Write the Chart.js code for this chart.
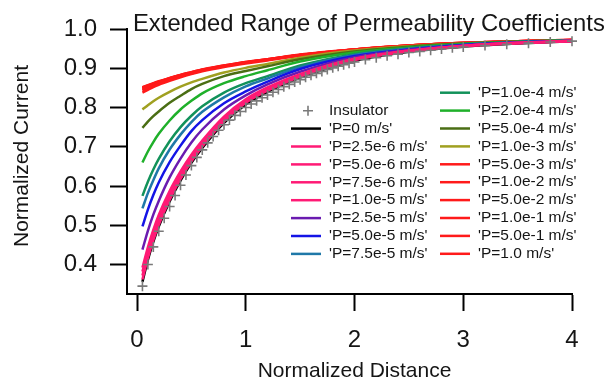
<!DOCTYPE html>
<html>
<head>
<meta charset="utf-8">
<script src="https://cdn.jsdelivr.net/npm/chart.js@4.4.1/dist/chart.umd.min.js"></script>
<style>
  html, body { margin: 0; padding: 0; background: #fff; }
  #wrap { width: 610px; height: 381px; }
</style>
</head>
<body>
<div id="wrap"><canvas id="chart" width="610" height="381"></canvas></div>
<script>
// insulator markers (gray +)
const insulatorX = [0.05, 0.1, 0.15, 0.2, 0.25, 0.3, 0.35, 0.4, 0.45, 0.5,
  0.55, 0.6, 0.65, 0.7, 0.75, 0.8, 0.85, 0.9, 0.95, 1.0,
  1.05, 1.1, 1.15, 1.2, 1.25, 1.3, 1.35, 1.4, 1.45, 1.5,
  1.55, 1.6, 1.65, 1.7, 1.75, 1.8, 1.85, 1.9, 1.95, 2.0,
  2.1, 2.2, 2.3, 2.4, 2.5, 2.6, 2.7, 2.8, 2.9, 3.0,
  3.2, 3.4, 3.6, 3.8, 4.0];
const insulatorY = [0.345, 0.400, 0.445, 0.485, 0.518, 0.548, 0.576, 0.602, 0.628, 0.652,
  0.673, 0.692, 0.710, 0.726, 0.742, 0.756, 0.768, 0.780, 0.790, 0.800,
  0.809, 0.817, 0.825, 0.832, 0.839, 0.846, 0.853, 0.859, 0.865, 0.871,
  0.877, 0.882, 0.887, 0.892, 0.897, 0.901, 0.905, 0.909, 0.913, 0.916,
  0.922, 0.927, 0.932, 0.936, 0.940, 0.943, 0.946, 0.949, 0.952, 0.954,
  0.958, 0.961, 0.964, 0.967, 0.969];

// permeability curves, all sampled at curveX
const curveX = [0.05, 0.1, 0.15, 0.2, 0.3, 0.4, 0.5, 0.6, 0.8, 1.0, 1.2, 1.5, 2.0, 2.5, 3.0, 3.5, 4.0];
const p0     = [0.356, 0.412, 0.458, 0.497, 0.561, 0.614, 0.659, 0.697, 0.761, 0.808, 0.840, 0.876, 0.919, 0.942, 0.955, 0.963, 0.969];
const p25e6  = [0.362, 0.417, 0.462, 0.501, 0.565, 0.618, 0.663, 0.701, 0.765, 0.812, 0.843, 0.879, 0.921, 0.943, 0.956, 0.964, 0.969];
const p50e6  = [0.372, 0.426, 0.471, 0.510, 0.573, 0.625, 0.669, 0.707, 0.769, 0.815, 0.846, 0.881, 0.922, 0.944, 0.957, 0.964, 0.969];
const p75e6  = [0.382, 0.435, 0.480, 0.518, 0.580, 0.631, 0.675, 0.712, 0.773, 0.818, 0.848, 0.883, 0.923, 0.944, 0.957, 0.965, 0.970];
const p10e5  = [0.392, 0.444, 0.488, 0.526, 0.587, 0.637, 0.680, 0.716, 0.777, 0.821, 0.851, 0.885, 0.924, 0.945, 0.957, 0.965, 0.970];
const p25e5  = [0.438, 0.486, 0.527, 0.562, 0.622, 0.670, 0.711, 0.744, 0.795, 0.831, 0.859, 0.891, 0.928, 0.947, 0.958, 0.965, 0.970];
const p50e5  = [0.497, 0.540, 0.577, 0.609, 0.661, 0.703, 0.740, 0.768, 0.811, 0.841, 0.866, 0.898, 0.931, 0.948, 0.959, 0.966, 0.970];
const p75e5  = [0.543, 0.582, 0.615, 0.645, 0.693, 0.731, 0.763, 0.789, 0.826, 0.854, 0.874, 0.903, 0.934, 0.950, 0.960, 0.966, 0.970];
const p10e4  = [0.575, 0.611, 0.642, 0.669, 0.714, 0.750, 0.779, 0.803, 0.838, 0.862, 0.880, 0.907, 0.936, 0.951, 0.960, 0.967, 0.971];
const p20e4  = [0.660, 0.688, 0.712, 0.733, 0.767, 0.795, 0.817, 0.836, 0.862, 0.880, 0.895, 0.917, 0.940, 0.953, 0.962, 0.967, 0.971];
const p50e4  = [0.748, 0.764, 0.778, 0.790, 0.812, 0.830, 0.847, 0.860, 0.880, 0.893, 0.905, 0.923, 0.943, 0.955, 0.963, 0.968, 0.971];
const p10e3  = [0.795, 0.806, 0.816, 0.825, 0.840, 0.853, 0.864, 0.873, 0.889, 0.901, 0.911, 0.927, 0.945, 0.956, 0.963, 0.968, 0.971];
const p50e3  = [0.838, 0.845, 0.852, 0.858, 0.868, 0.877, 0.885, 0.892, 0.903, 0.912, 0.920, 0.932, 0.947, 0.957, 0.964, 0.969, 0.972];
const p10e2  = [0.843, 0.850, 0.856, 0.862, 0.871, 0.880, 0.887, 0.894, 0.905, 0.914, 0.922, 0.933, 0.948, 0.958, 0.964, 0.969, 0.972];
const p50e2  = [0.847, 0.853, 0.859, 0.864, 0.873, 0.881, 0.888, 0.895, 0.906, 0.915, 0.922, 0.934, 0.948, 0.958, 0.964, 0.969, 0.972];
const p10e1  = [0.849, 0.855, 0.860, 0.865, 0.874, 0.882, 0.889, 0.896, 0.906, 0.915, 0.923, 0.934, 0.948, 0.958, 0.965, 0.969, 0.972];
const p50e1  = [0.851, 0.856, 0.861, 0.866, 0.875, 0.883, 0.890, 0.896, 0.907, 0.916, 0.923, 0.934, 0.948, 0.958, 0.965, 0.969, 0.972];
const p10e0  = [0.852, 0.857, 0.862, 0.867, 0.875, 0.883, 0.890, 0.897, 0.907, 0.916, 0.923, 0.935, 0.948, 0.958, 0.965, 0.969, 0.972];

const curveLabels = ["'P=0 m/s'", "'P=2.5e-6 m/s'", "'P=5.0e-6 m/s'", "'P=7.5e-6 m/s'", "'P=1.0e-5 m/s'",
  "'P=2.5e-5 m/s'", "'P=5.0e-5 m/s'", "'P=7.5e-5 m/s'", "'P=1.0e-4 m/s'", "'P=2.0e-4 m/s'",
  "'P=5.0e-4 m/s'", "'P=1.0e-3 m/s'", "'P=5.0e-3 m/s'", "'P=1.0e-2 m/s'", "'P=5.0e-2 m/s'",
  "'P=1.0e-1 m/s'", "'P=5.0e-1 m/s'", "'P=1.0 m/s'"];
const curveValues = [p0, p25e6, p50e6, p75e6, p10e5, p25e5, p50e5, p75e5, p10e4, p20e4,
  p50e4, p10e3, p50e3, p10e2, p50e2, p10e1, p50e1, p10e0];
const curveColors = ['#000000', '#ff1a75', '#ff1a75', '#ff1a75', '#ff1a75',
  '#6a1bb0', '#1414e6', '#1f78a8', '#12925a', '#1fb02a',
  '#4a6e14', '#a0a020', '#ff1a1a', '#ff1a1a', '#ff1a1a',
  '#ff1a1a', '#ff1a1a', '#ff1a1a'];

const xTicks = [0, 1, 2, 3, 4];
const yTicks = [0.4, 0.5, 0.6, 0.7, 0.8, 0.9, 1.0];

const FONT = '"Liberation Sans", Arial, sans-serif';
const textColor = '#151515';

const datasets = [{
  label: 'Insulator',
  data: insulatorX.map((x, i) => ({ x: x, y: insulatorY[i] })),
  showLine: false,
  pointStyle: 'cross',
  pointRadius: 5,
  pointBorderWidth: 1.6,
  pointBorderColor: '#7a7a7a',
  borderColor: '#7a7a7a',
  clip: false,
  order: 0
}];
curveValues.forEach((vals, k) => {
  datasets.push({
    label: curveLabels[k],
    data: curveX.map((x, i) => ({ x: x, y: vals[i] })),
    showLine: true,
    borderColor: curveColors[k],
    borderWidth: 2.5,
    pointRadius: 0,
    cubicInterpolationMode: 'monotone',
    clip: false,
    order: k === 0 ? 1 : 0   // P=0 sits underneath the pink curves
  });
});

// title, axis titles and the two-column legend drawn on the canvas
const decorPlugin = {
  id: 'decor',
  afterDraw(chart) {
    const ctx = chart.ctx;
    const area = chart.chartArea;
    ctx.save();
    ctx.fillStyle = textColor;

    ctx.font = '23.8px ' + FONT;
    ctx.textAlign = 'left';
    ctx.textBaseline = 'alphabetic';
    ctx.fillText('Extended Range of Permeability Coefficients', area.left + 6, 31);

    ctx.font = '21px ' + FONT;
    ctx.textAlign = 'center';
    ctx.textBaseline = 'middle';
    ctx.fillText('Normalized Distance', chart.scales.x.getPixelForValue(2), 371);
    ctx.save();
    ctx.translate(22, 156);
    ctx.rotate(-Math.PI / 2);
    ctx.fillText('Normalized Current', 0, 0);
    ctx.restore();

    ctx.font = '15.5px ' + FONT;
    ctx.textAlign = 'left';
    chart.data.datasets.forEach((ds, i) => {
      const col = i < 9 ? 0 : 1;
      const row = col === 0 ? i : i - 9;
      const x0 = col === 0 ? 291 : 440;
      const y = (col === 0 ? 110.7 : 92.7) + row * 17.9;
      ctx.strokeStyle = ds.borderColor;
      if (ds.showLine === false) {
        ctx.lineWidth = 1.6;
        ctx.beginPath();
        ctx.moveTo(x0 + 12, y); ctx.lineTo(x0 + 22, y);
        ctx.moveTo(x0 + 17, y - 5); ctx.lineTo(x0 + 17, y + 5);
        ctx.stroke();
      } else {
        ctx.lineWidth = 2.5;
        ctx.beginPath();
        ctx.moveTo(x0, y); ctx.lineTo(x0 + 30, y);
        ctx.stroke();
      }
      ctx.fillStyle = textColor;
      ctx.fillText(ds.label, x0 + 38, y);
    });
    ctx.restore();
  }
};

new Chart(document.getElementById('chart'), {
  type: 'scatter',
  data: { datasets: datasets },
  plugins: [decorPlugin],
  options: {
    responsive: false,
    animation: false,
    devicePixelRatio: 1,
    layout: { padding: { top: 29, right: 38, bottom: 0, left: 0 } },
    plugins: { legend: { display: false }, tooltip: { enabled: false }, title: { display: false } },
    scales: {
      x: {
        type: 'linear',
        min: -0.092,
        max: 4,
        afterBuildTicks: s => { s.ticks = xTicks.map(v => ({ value: v })); },
        afterFit: s => { s.height = 87; },
        grid: { drawOnChartArea: false, drawTicks: true, tickLength: 17, tickWidth: 2, tickColor: '#000' },
        border: { display: true, color: '#000', width: 2 },
        ticks: {
          autoSkip: false, maxRotation: 0, padding: 15, color: textColor,
          font: { family: FONT, size: 24 },
          callback: v => String(v)
        }
      },
      y: {
        type: 'linear',
        min: 0.325,
        max: 1.0,
        afterBuildTicks: s => { s.ticks = yTicks.map(v => ({ value: v })); },
        afterFit: s => { s.width = 127; },
        grid: { drawOnChartArea: false, drawTicks: true, tickLength: 17, tickWidth: 2, tickColor: '#000' },
        border: { display: true, color: '#000', width: 2 },
        ticks: {
          autoSkip: false, padding: 13, color: textColor,
          font: { family: FONT, size: 24 },
          callback: v => v.toFixed(1)
        }
      }
    }
  }
});
</script>
</body>
</html>
